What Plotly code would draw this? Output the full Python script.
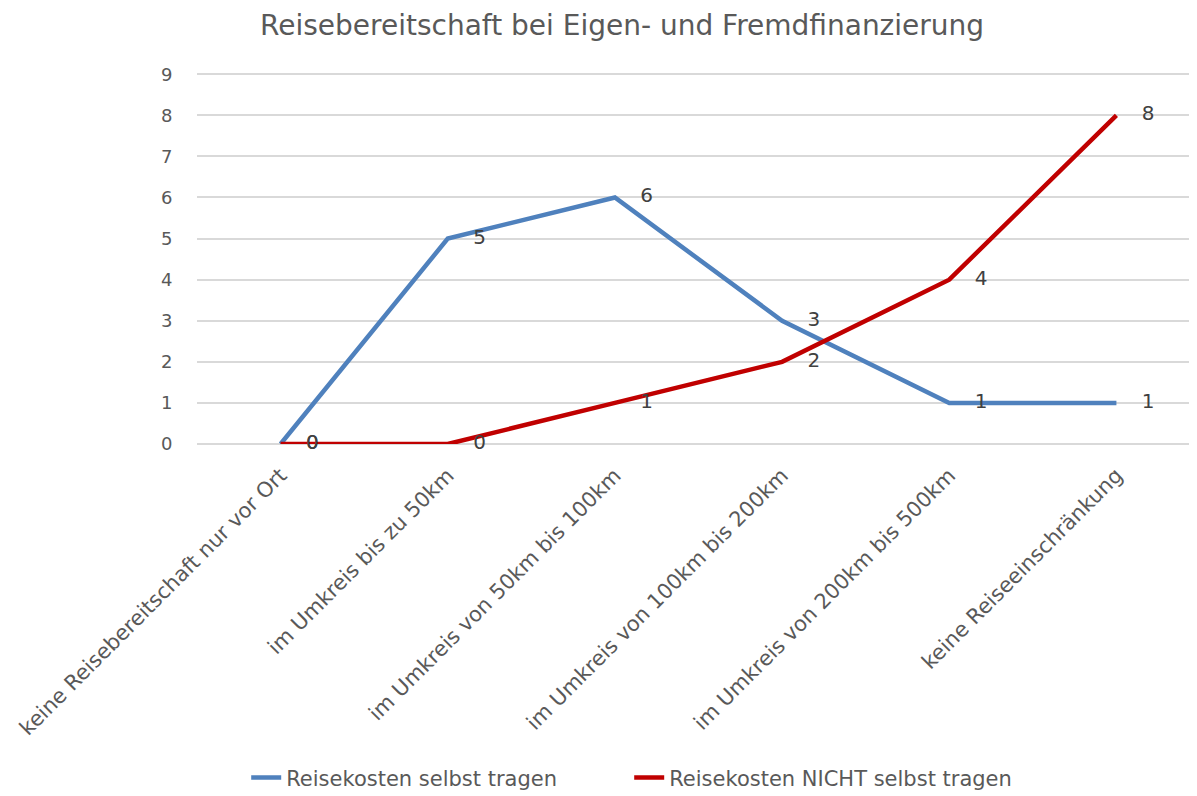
import plotly.graph_objects as go

categories = [
    "keine Reisebereitschaft nur vor Ort",
    "im Umkreis bis zu 50km",
    "im Umkreis von 50km bis 100km",
    "im Umkreis von 100km bis 200km",
    "im Umkreis von 200km bis 500km",
    "keine Reiseeinschränkung",
]
selbst = [0, 5, 6, 3, 1, 1]
nicht_selbst = [0, 0, 1, 2, 4, 8]

FONT = "DejaVu Sans, sans-serif"
GREY = "#595959"

def lbl(vals):
    return ["\u2007\u2007" + str(v) for v in vals]

fig = go.Figure()
fig.add_trace(go.Scatter(
    x=categories, y=selbst, name="Reisekosten selbst tragen",
    mode="lines+text", text=lbl(selbst), textposition="middle right",
    textfont=dict(size=20, color="#404040", family=FONT),
    line=dict(color="#4f81bd", width=4.5), cliponaxis=False,
))
fig.add_trace(go.Scatter(
    x=categories, y=nicht_selbst, name="Reisekosten NICHT selbst tragen",
    mode="lines+text", text=lbl(nicht_selbst), textposition="middle right",
    textfont=dict(size=20, color="#404040", family=FONT),
    line=dict(color="#c00000", width=4.5), cliponaxis=False,
))

fig.update_layout(
    width=1197, height=796,
    paper_bgcolor="white", plot_bgcolor="white",
    margin=dict(l=189, r=5, t=65, b=360, autoexpand=False),
    font=dict(family=FONT, color=GREY, size=16),
    title=dict(text="Reisebereitschaft bei Eigen- und Fremdfinanzierung",
               x=0.513, xanchor="center", y=0.979, yanchor="middle",
               font=dict(size=28, color=GREY, family=FONT)),
    showlegend=True,
    legend=dict(orientation="h", xref="container", x=0.199, xanchor="left",
                y=0.033, yanchor="middle", yref="container",
                entrywidth=338, entrywidthmode="pixels",
                font=dict(size=21, color=GREY, family=FONT)),
    xaxis=dict(range=[-0.5, 5.5], tickangle=-45, showgrid=False, zeroline=False,
               showline=False, tickfont=dict(size=21, color=GREY), ticks="",
               ticklabelstandoff=14),
    yaxis=dict(range=[0, 9.03], tickvals=list(range(10)), showgrid=True,
               gridcolor="#d9d9d9", gridwidth=1.5,
               zeroline=True, zerolinecolor="#d9d9d9", zerolinewidth=1.5,
               showline=False, ticks="outside", ticklen=20, tickcolor="rgba(0,0,0,0)",
               tickfont=dict(size=18, color=GREY)),
)

fig.write_html("out.html")
